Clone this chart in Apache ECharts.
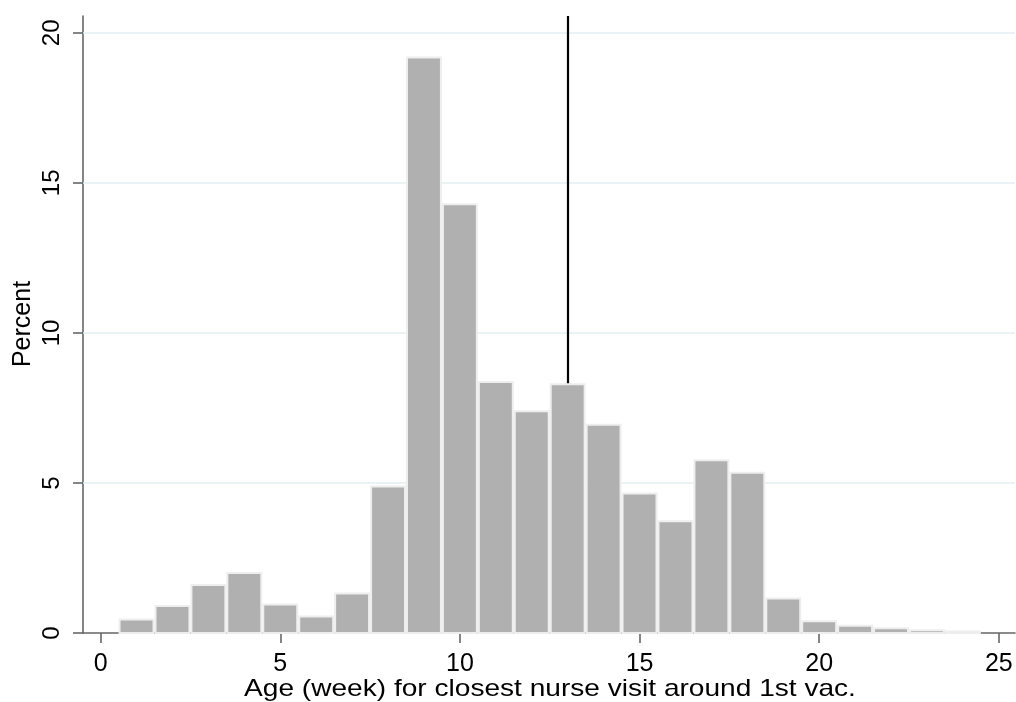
<!DOCTYPE html>
<html>
<head>
<meta charset="utf-8">
<title>Age at closest nurse visit</title>
<script src="https://cdn.jsdelivr.net/npm/echarts@6/dist/echarts.min.js"></script>
<style>
  html, body { margin: 0; padding: 0; background: #ffffff; }
  #chart { width: 1016px; height: 702px; }
</style>
</head>
<body>
<div id="chart"></div>
<script>
// Histogram of age (weeks) at the closest nurse visit around the 1st vaccination
const weeks = [1, 2, 3, 4, 5, 6, 7, 8, 9, 10, 11, 12, 13, 14, 15, 16, 17, 18, 19, 20, 21, 22, 23, 24];
const percent = [0.45, 0.90, 1.60, 2.00, 0.95, 0.55, 1.32, 4.88, 19.18, 14.29, 8.36, 7.39,
                 8.29, 6.94, 4.65, 3.72, 5.76, 5.34, 1.15, 0.39, 0.24, 0.16, 0.09, 0.05];
const xTicks = [0, 5, 10, 15, 20, 25];
const yTicks = [0, 5, 10, 15, 20];
const gridValues = [5, 10, 15, 20];
const refWeek = 13;
const xTitle = 'Age (week) for closest nurse visit around 1st vac.';
const yTitle = 'Percent';

const FONT = '"Liberation Sans", Arial, sans-serif';
const AXIS_COLOR = '#666666';

const chart = echarts.init(document.getElementById('chart'), null, { renderer: 'canvas' });

const option = {
  animation: false,
  backgroundColor: '#ffffff',
  grid: { left: 83, top: 16, right: 1, bottom: 69, containLabel: false },
  xAxis: {
    type: 'value',
    min: -0.49,
    max: 25.45,
    axisLine: { show: true, onZero: false, lineStyle: { color: AXIS_COLOR, width: 1.6 } },
    axisTick: { show: true, customValues: xTicks, length: 10, inside: false,
                lineStyle: { color: AXIS_COLOR, width: 1.6 } },
    axisLabel: { customValues: xTicks, margin: 19, color: '#000000', fontSize: 25, fontFamily: FONT },
    splitLine: { show: false }
  },
  yAxis: {
    type: 'value',
    min: 0,
    max: 20.56,
    axisLine: { show: true, onZero: false, lineStyle: { color: AXIS_COLOR, width: 1.6 } },
    axisTick: { show: true, customValues: yTicks, length: 10, inside: false,
                lineStyle: { color: AXIS_COLOR, width: 1.6 } },
    axisLabel: { customValues: yTicks, rotate: 90, margin: 19, color: '#000000', fontSize: 24, fontFamily: FONT },
    splitLine: { show: false }
  },
  graphic: [
    { type: 'text', x: 550, y: 689, z: 20, scaleX: 1.17,
      style: { text: xTitle, align: 'center', verticalAlign: 'middle',
               fill: '#000000', fontSize: 24, fontFamily: FONT } },
    { type: 'text', x: 23, y: 324, rotation: Math.PI / 2, z: 20,
      style: { text: yTitle, align: 'center', verticalAlign: 'middle',
               fill: '#000000', fontSize: 25, fontFamily: FONT } }
  ],
  series: [
    {
      // gridlines and the week-13 marker, drawn beneath the bars
      type: 'line',
      data: [],
      z: 1,
      markLine: {
        silent: true,
        symbol: ['none', 'none'],
        z: 1,
        label: { show: false },
        emphasis: { disabled: true },
        data: gridValues.map(v => ({ yAxis: v, lineStyle: { color: '#e2eef0', width: 1.6, type: 'solid' } }))
          .concat([{ xAxis: refWeek, lineStyle: { color: '#000000', width: 2.2, type: 'solid' } }])
      }
    },
    {
      type: 'custom',
      z: 10,
      data: weeks.map((w, i) => [w, percent[i]]),
      encode: { x: 0, y: 1 },
      renderItem: function (params, api) {
        const x = api.value(0);
        const v = api.value(1);
        const topLeft = api.coord([x - 0.5, v]);
        const bottomRight = api.coord([x + 0.5, 0]);
        return {
          type: 'rect',
          shape: {
            x: topLeft[0] + 1,
            y: topLeft[1],
            width: bottomRight[0] - topLeft[0] - 2,
            height: bottomRight[1] - topLeft[1]
          },
          style: { fill: '#b0b0b0', stroke: '#eeeeee', lineWidth: 2 }
        };
      }
    }
  ]
};

chart.setOption(option);
</script>
</body>
</html>
